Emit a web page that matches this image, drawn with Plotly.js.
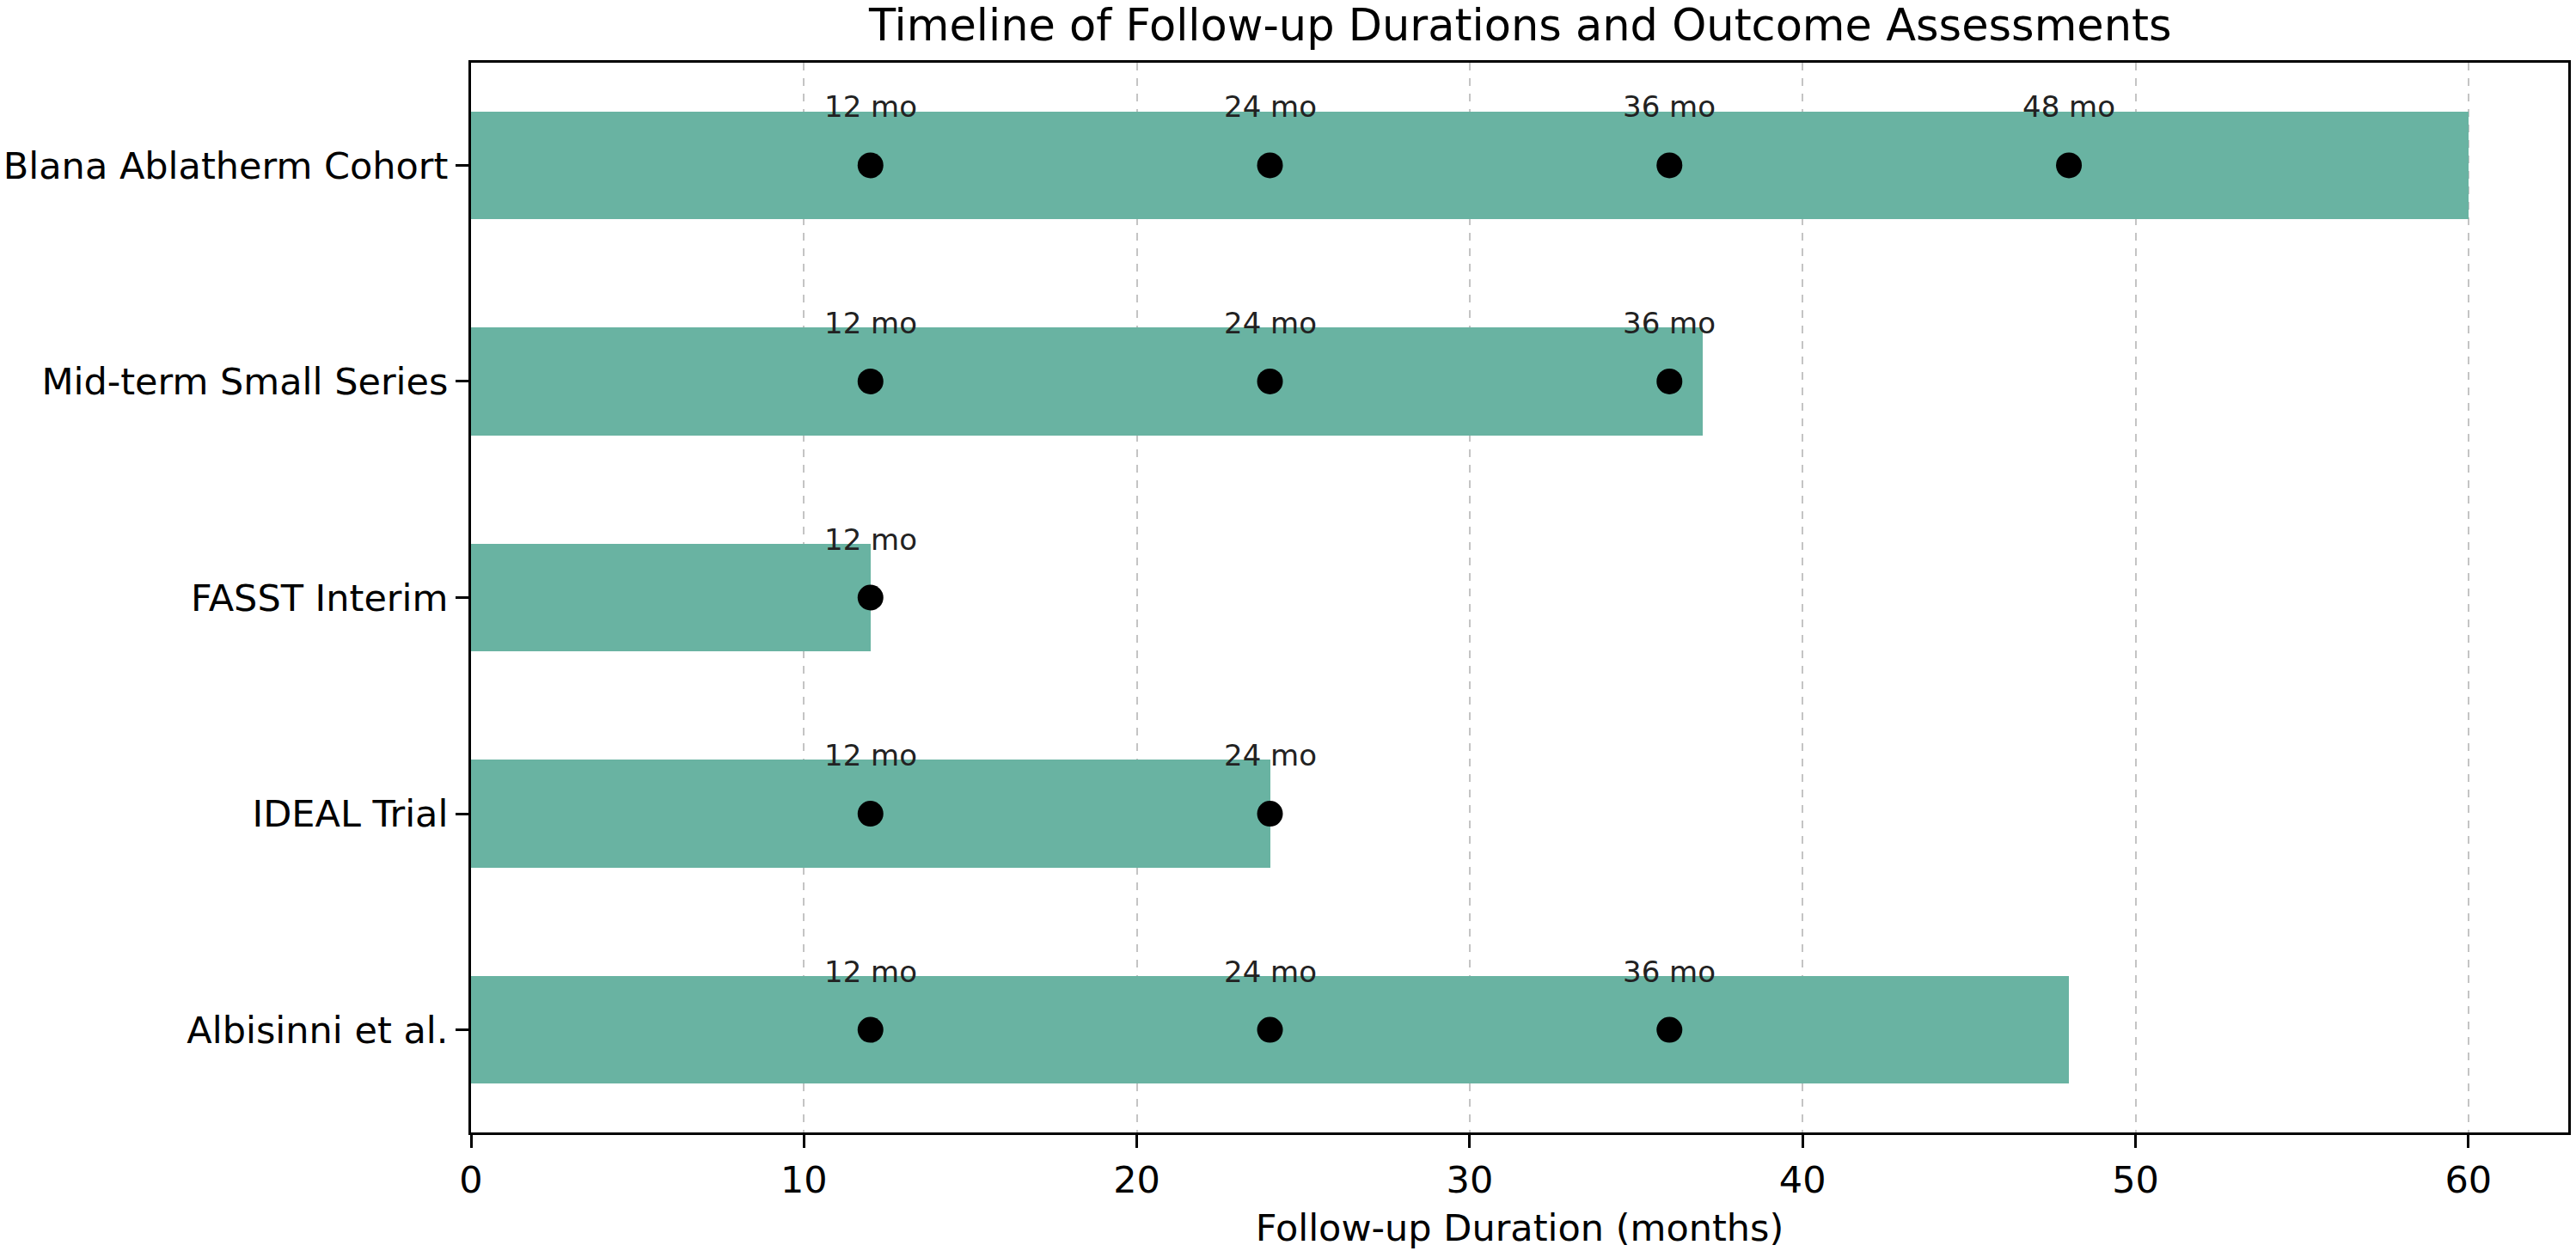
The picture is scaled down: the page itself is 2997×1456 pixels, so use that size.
<!DOCTYPE html>
<html>
<head>
<meta charset="utf-8">
<script src="https://cdn.plot.ly/plotly-3.0.1.min.js"></script>
<style>html,body{margin:0;padding:0;background:#fff;}#chart{width:2997px;height:1456px;}</style>
</head>
<body>
<div id="chart"></div>
<script>
// Data
const studies = ["Albisinni et al.", "IDEAL Trial", "FASST Interim", "Mid-term Small Series", "Blana Ablatherm Cohort"];
const durations = [48, 24, 12, 37, 60];
const assessments = [[12, 24, 36], [12, 24], [12], [12, 24, 36], [12, 24, 36, 48]];
const xTicks = [0, 10, 20, 30, 40, 50, 60];

const FONT = "DejaVu Sans, Liberation Sans, sans-serif";
const yIdx = studies.map((_, i) => i);

const barTrace = {
  type: "bar",
  orientation: "h",
  x: durations,
  y: yIdx,
  width: 0.5,
  marker: { color: "#69b3a2", line: { width: 0 } },
  hoverinfo: "skip",
  showlegend: false
};

const mx = [], my = [];
assessments.forEach((arr, i) => arr.forEach(t => { mx.push(t); my.push(i); }));

const dotTrace = {
  type: "scatter",
  mode: "markers",
  x: mx,
  y: my,
  marker: { color: "#000000", size: 30 },
  hoverinfo: "skip",
  showlegend: false,
  cliponaxis: false
};

const annotations = mx.map((t, k) => ({
  x: t, y: my[k], xref: "x", yref: "y",
  text: t + " mo", showarrow: false,
  yanchor: "bottom", xanchor: "center",
  yshift: 46,
  font: { family: FONT, size: 34, color: "#222" }
}));

annotations.push({
  text: "Timeline of Follow-up Durations and Outcome Assessments",
  xref: "paper", yref: "paper", x: 0.5, y: 1, yshift: 44,
  xanchor: "center", yanchor: "middle", showarrow: false,
  font: { family: FONT, size: 51, color: "#000" }
});

const layout = {
  width: 2997, height: 1456,
  margin: { l: 548, r: 9, t: 73, b: 138 },
  paper_bgcolor: "#fff", plot_bgcolor: "#fff",
  font: { family: FONT, color: "#000" },
  bargap: 0,
  xaxis: {
    range: [0, 63],
    tickvals: xTicks,
    ticktext: xTicks.map(String),
    ticks: "outside", ticklen: 15, tickwidth: 3, tickcolor: "#000",
    tickfont: { family: FONT, size: 43, color: "#000" },
    showline: true, linecolor: "#000", linewidth: 3, mirror: true,
    showgrid: true, gridcolor: "#c4c4c4", gridwidth: 2, griddash: "dash",
    zeroline: false,
    title: { text: "Follow-up Duration (months)", font: { family: FONT, size: 43, color: "#000" }, standoff: 18 }
  },
  yaxis: {
    range: [-0.475, 4.475],
    tickvals: yIdx,
    ticktext: studies,
    ticks: "outside", ticklen: 15, tickwidth: 3, tickcolor: "#000",
    tickfont: { family: FONT, size: 43, color: "#000" },
    showline: true, linecolor: "#000", linewidth: 3, mirror: true,
    showgrid: false, zeroline: false
  },
  annotations: annotations
};

Plotly.newPlot("chart", [barTrace, dotTrace], layout, { staticPlot: true, displayModeBar: false });
</script>
</body>
</html>
